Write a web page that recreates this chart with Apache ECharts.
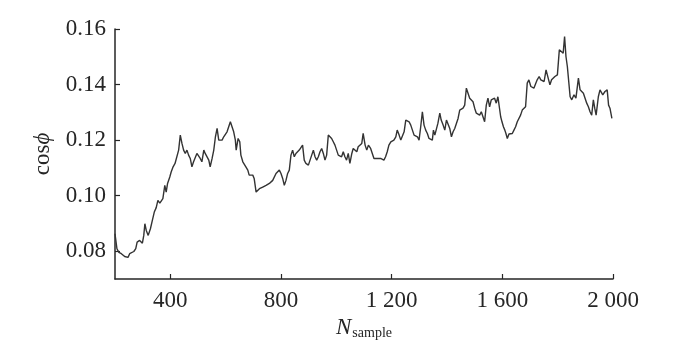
<!DOCTYPE html>
<html>
<head>
<meta charset="utf-8">
<script src="https://cdn.jsdelivr.net/npm/echarts@6/dist/echarts.min.js"></script>
<style>
  html, body { margin: 0; padding: 0; background: #fff; }
  #chart { width: 679px; height: 354px; }
</style>
</head>
<body>
<div id="chart"></div>
<script>
// sample index (N_sample)
const sampleList = [
  200, 207, 214, 223, 235, 247, 253, 260, 268, 275, 280, 289, 299, 304, 308, 313, 320, 328, 335, 342,
  349, 355, 362, 367, 373, 380, 385, 390, 398, 403, 410, 417, 424, 430, 436, 442, 448, 454, 460, 466,
  472, 478, 484, 490, 496, 503, 508, 514, 521, 526, 533, 539, 544, 551, 557, 563, 569, 575, 581, 587,
  593, 599, 605, 611, 617, 622, 629, 635, 638, 645, 651, 655, 662, 667, 673, 680, 685, 692, 698, 703,
  710, 716, 722, 728, 734, 740, 746, 752, 758, 764, 770, 776, 782, 788, 794, 800, 806, 812, 818, 824,
  830, 836, 842, 848, 854, 860, 866, 872, 878, 884, 890, 899, 905, 911, 917, 923, 929, 935, 941, 947,
  953, 959, 965, 971, 977, 983, 989, 995, 1001, 1007, 1013, 1019, 1025, 1031, 1037, 1043, 1049, 1056, 1061, 1067,
  1074, 1079, 1086, 1092, 1097, 1104, 1110, 1116, 1124, 1130, 1136, 1142, 1148, 1154, 1160, 1172, 1178, 1184, 1190, 1197,
  1202, 1208, 1215, 1220, 1227, 1233, 1238, 1245, 1251, 1257, 1263, 1269, 1275, 1281, 1287, 1293, 1299, 1305, 1311, 1317,
  1323, 1329, 1335, 1341, 1347, 1351, 1356, 1361, 1367, 1374, 1379, 1386, 1392, 1398, 1404, 1410, 1416, 1422, 1428, 1434,
  1440, 1446, 1452, 1458, 1464, 1470, 1476, 1482, 1488, 1494, 1500, 1506, 1512, 1518, 1524, 1530, 1536, 1542, 1548, 1554,
  1560, 1566, 1572, 1578, 1584, 1589, 1594, 1599, 1604, 1609, 1613, 1618, 1624, 1630, 1636, 1642, 1648, 1654, 1660, 1666,
  1672, 1678, 1684, 1690, 1696, 1703, 1708, 1714, 1721, 1726, 1733, 1739, 1744, 1751, 1758, 1765, 1772, 1778, 1784, 1790,
  1799, 1806, 1813, 1820, 1825, 1830, 1835, 1840, 1845, 1851, 1859, 1866, 1875, 1881, 1893, 1899, 1905, 1911, 1917, 1923,
  1929, 1934, 1939, 1947, 1953, 1963, 1971, 1979, 1984, 1989, 1996
]
// cos(phi)
const cosList = [
  0.0863, 0.0809, 0.0796, 0.0791, 0.0781, 0.0778, 0.0791, 0.0796, 0.0799, 0.0809, 0.0833, 0.0839, 0.0829, 0.0857, 0.0899, 0.0875, 0.0857, 0.0881, 0.0911, 0.0941,
  0.0957, 0.0983, 0.0973, 0.0971, 0.0989, 0.1037, 0.1013, 0.1044, 0.1067, 0.1085, 0.1104, 0.1116, 0.1122, 0.1164, 0.1218, 0.1188, 0.1164, 0.1152, 0.1164, 0.1146,
  0.1134, 0.1104, 0.1122, 0.1116, 0.1152, 0.1146, 0.1134, 0.1122, 0.1164, 0.1152, 0.1146, 0.1128, 0.1104, 0.1134, 0.1164, 0.1212, 0.1242, 0.1200, 0.1194, 0.1200,
  0.1212, 0.1206, 0.1230, 0.1248, 0.1266, 0.1272, 0.1230, 0.1200, 0.1164, 0.1206, 0.1194, 0.1146, 0.1122, 0.1128, 0.1104, 0.1092, 0.1074, 0.1080, 0.1074, 0.1062,
  0.1013, 0.1019, 0.1025, 0.1019, 0.1031, 0.1025, 0.1037, 0.1031, 0.1044, 0.1037, 0.1055, 0.1062, 0.1080, 0.1085, 0.1092, 0.1080, 0.1062, 0.1037, 0.1055, 0.1080,
  0.1092, 0.1146, 0.1164, 0.1140, 0.1152, 0.1146, 0.1164, 0.1170, 0.1182, 0.1128, 0.1116, 0.1110, 0.1128, 0.1146, 0.1164, 0.1140, 0.1128, 0.1140, 0.1158, 0.1170,
  0.1152, 0.1128, 0.1146, 0.1218, 0.1224, 0.1206, 0.1194, 0.1182, 0.1164, 0.1146, 0.1152, 0.1140, 0.1158, 0.1140, 0.1128, 0.1152, 0.1116, 0.1152, 0.1170, 0.1164,
  0.1158, 0.1176, 0.1182, 0.1188, 0.1224, 0.1182, 0.1164, 0.1182, 0.1170, 0.1152, 0.1134, 0.1128, 0.1134, 0.1140, 0.1134, 0.1128, 0.1140, 0.1158, 0.1182, 0.1194,
  0.1188, 0.1200, 0.1212, 0.1236, 0.1218, 0.1200, 0.1206, 0.1230, 0.1272, 0.1278, 0.1266, 0.1254, 0.1236, 0.1218, 0.1224, 0.1212, 0.1200, 0.1248, 0.1302, 0.1254,
  0.1236, 0.1224, 0.1206, 0.1212, 0.1200, 0.1236, 0.1218, 0.1212, 0.1260, 0.1297, 0.1272, 0.1254, 0.1236, 0.1272, 0.1278, 0.1242, 0.1212, 0.1230, 0.1242, 0.1260,
  0.1278, 0.1308, 0.1302, 0.1315, 0.1326, 0.1387, 0.1381, 0.1351, 0.1356, 0.1338, 0.1315, 0.1297, 0.1302, 0.1290, 0.1302, 0.1284, 0.1266, 0.1326, 0.1351, 0.1320,
  0.1345, 0.1338, 0.1351, 0.1333, 0.1356, 0.1363, 0.1284, 0.1265, 0.1248, 0.1236, 0.1224, 0.1206, 0.1222, 0.1218, 0.1224, 0.1236, 0.1248, 0.1266, 0.1272, 0.1290,
  0.1308, 0.1315, 0.1320, 0.1405, 0.1417, 0.1393, 0.1399, 0.1387, 0.1405, 0.1417, 0.1429, 0.1417, 0.1423, 0.1411, 0.1453, 0.1459, 0.1399, 0.1417, 0.1423, 0.1429,
  0.1435, 0.1525, 0.1518, 0.1513, 0.1573, 0.1501, 0.1465, 0.1465, 0.1356, 0.1345, 0.1363, 0.1351, 0.1423, 0.1381, 0.1369, 0.1351, 0.1333, 0.1320, 0.1302, 0.1290,
  0.1345, 0.1315, 0.1290, 0.1356, 0.1381, 0.1363, 0.1375, 0.1381, 0.1326, 0.1315, 0.1278
]
const xTickList = [400, 800, 1200, 1600, 2000]
const yTickList = [0.08, 0.10, 0.12, 0.14, 0.16]

let seriesData = sampleList.map((s, i) => [s, cosList[i]])

const fontFamily = '"Liberation Serif", "DejaVu Serif", serif'
const axisColor = '#262626'

let chartDom = document.getElementById('chart')
let myChart = echarts.init(chartDom)
let option = {
  animation: false,
  backgroundColor: '#fff',
  grid: {
    left: 115,
    right: 66,
    top: 29,
    bottom: 75
  },
  xAxis: {
    type: 'value',
    min: 200,
    max: 2000,
    name: '{n|N}{s|sample}',
    nameLocation: 'middle',
    nameGap: 36,
    nameTextStyle: {
      fontFamily: fontFamily,
      color: axisColor,
      rich: {
        n: { fontFamily: fontFamily, fontSize: 23, fontStyle: 'italic', color: axisColor, verticalAlign: 'bottom' },
        s: { fontFamily: fontFamily, fontSize: 14, color: axisColor, verticalAlign: 'bottom', padding: [0, 0, 0, 1] }
      }
    },
    axisLine: { show: true, lineStyle: { color: axisColor, width: 1.5 } },
    axisTick: {
      show: true,
      inside: true,
      length: 5,
      customValues: xTickList,
      lineStyle: { color: axisColor, width: 1.2 }
    },
    axisLabel: {
      customValues: xTickList,
      margin: 10,
      fontFamily: fontFamily,
      fontSize: 23,
      color: axisColor,
      formatter: v => String(v).replace(/\B(?=(\d{3})+(?!\d))/g, ' ')
    },
    splitLine: { show: false }
  },
  yAxis: {
    type: 'value',
    min: 0.07,
    max: 0.16,
    name: '{t|cos}{p|ϕ}',
    nameLocation: 'middle',
    nameGap: 53,
    nameTextStyle: {
      fontFamily: fontFamily,
      color: axisColor,
      rich: {
        t: { fontFamily: fontFamily, fontSize: 23, color: axisColor },
        p: { fontFamily: fontFamily, fontSize: 23, fontStyle: 'italic', color: axisColor }
      }
    },
    axisLine: { show: true, lineStyle: { color: axisColor, width: 1.5 } },
    axisTick: {
      show: true,
      inside: true,
      length: 5,
      customValues: yTickList,
      lineStyle: { color: axisColor, width: 1.2 }
    },
    axisLabel: {
      customValues: yTickList,
      margin: 9,
      fontFamily: fontFamily,
      fontSize: 23,
      color: axisColor,
      formatter: v => v.toFixed(2)
    },
    splitLine: { show: false }
  },
  series: [
    {
      type: 'line',
      data: seriesData,
      showSymbol: false,
      lineStyle: { color: '#333333', width: 1.4 }
    }
  ]
}
option && myChart.setOption(option)
</script>
</body>
</html>
